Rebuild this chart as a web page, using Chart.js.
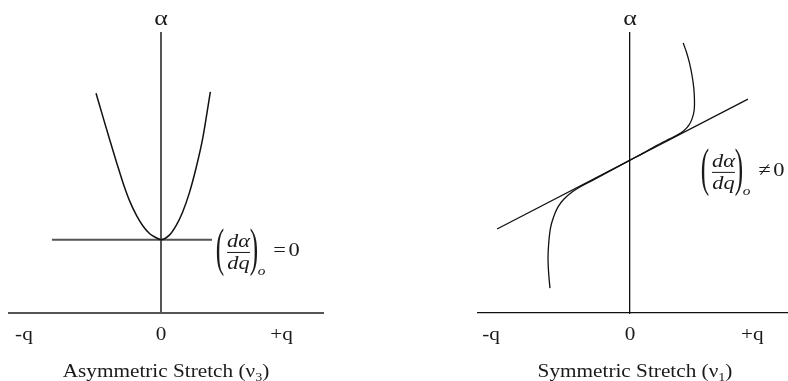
<!DOCTYPE html>
<html>
<head>
<meta charset="utf-8">
<script src="https://cdn.jsdelivr.net/npm/chart.js@4.4.1/dist/chart.umd.min.js"></script>
<style>
    html, body { margin: 0; padding: 0; background: #fff; }
    .row { display: flex; width: 788px; height: 381px; }
</style>
</head>
<body>
<div class="row">
    <canvas id="asymChart" width="394" height="381"></canvas>
    <canvas id="symChart" width="394" height="381"></canvas>
</div>
<script>
// q axis ticks (shared by both panels)
const tickValues = [-1, 0, 0.88];
const tickLabels = ['-q', '0', '+q'];

// asymmetric stretch: polarizability vs. displacement
const asymCurveQ = [-0.474, -0.421, -0.372, -0.323, -0.275, -0.226, -0.177, -0.129, -0.080, -0.031, 0, 0.061, 0.109, 0.158, 0.207, 0.255, 0.304, 0.332, 0.360];
const asymCurveA = [7.85, 6.96, 6.15, 5.36, 4.62, 3.97, 3.47, 3.09, 2.82, 2.68, 2.62, 2.78, 3.11, 3.61, 4.29, 5.16, 6.23, 7.04, 7.90];
const asymTangentQ = [-0.796, 0.372];
const asymTangentA = [2.62, 2.62];

// symmetric stretch
const symCurveQ = [0.383, 0.406, 0.428, 0.446, 0.459, 0.464, 0.462, 0.448, 0.423, 0.387, 0.342, 0.281, 0.187, 0.094, 0, -0.086, -0.180, -0.273, -0.360, -0.417, -0.475, -0.518, -0.550, -0.572, -0.585, -0.590, -0.586, -0.576];
const symCurveA = [9.64, 9.32, 8.93, 8.50, 8.04, 7.61, 7.25, 6.95, 6.70, 6.51, 6.36, 6.21, 5.97, 5.71, 5.46, 5.23, 4.98, 4.73, 4.50, 4.32, 4.07, 3.79, 3.43, 3.04, 2.50, 1.96, 1.46, 0.89];
const symTangentQ = [-0.957, 0.849];
const symTangentA = [3.00, 7.64];

const SERIF = '"Liberation Serif", "Times New Roman", serif';
const SX = 1.18; // the lettering is set a little wide

function toPoints(xs, ys) {
    return xs.map((x, i) => ({ x: x, y: ys[i] }));
}

function putText(ctx, str, x, y, size, opts) {
    opts = opts || {};
    ctx.save();
    ctx.translate(x, y);
    ctx.scale(opts.sx || SX, opts.sy || 1);
    ctx.font = (opts.italic ? 'italic ' : '') + size + 'px ' + SERIF;
    ctx.textAlign = opts.align || 'center';
    ctx.textBaseline = 'alphabetic';
    ctx.fillStyle = '#1a1a1a';
    ctx.fillText(str, 0, 0);
    ctx.restore();
}

// tall thin bracket, centred on cy
function putParen(ctx, ch, cx, cy) {
    const size = 28, sy = 1.85;
    ctx.save();
    ctx.font = size + 'px ' + SERIF;
    const m = ctx.measureText(ch);
    ctx.restore();
    const base = cy + sy * (m.actualBoundingBoxAscent - m.actualBoundingBoxDescent) / 2;
    putText(ctx, ch, cx, base, size, { sx: 0.9, sy: sy });
}

// (dα/dq)o  = 0  /  ≠ 0
function putDerivative(ctx, L, y, op) {
    putParen(ctx, '(', L - 7, y);
    putText(ctx, 'dα', L + 11.5, y - 5, 19, { italic: true });
    ctx.save();
    ctx.strokeStyle = '#1a1a1a';
    ctx.lineWidth = 1;
    ctx.beginPath();
    ctx.moveTo(L, y + 0.5);
    ctx.lineTo(L + 23, y + 0.5);
    ctx.stroke();
    ctx.restore();
    putText(ctx, 'dq', L + 11.5, y + 17, 19, { italic: true });
    putParen(ctx, ')', L + 27, y);
    putText(ctx, 'o', L + 34.5, y + 23, 13, { italic: true });
    putText(ctx, op, L + 52.5, y + 4, 19);
    putText(ctx, '0', L + 67, y + 4, 19);
}

function putTitle(ctx, cx, y, main, sub) {
    const parts = [[main + ' (ν', 18, 0], [sub, 12, 4], [')', 18, 0]];
    ctx.save();
    const widths = parts.map(p => {
        ctx.font = p[1] + 'px ' + SERIF;
        return ctx.measureText(p[0]).width * SX;
    });
    ctx.restore();
    let x = cx - widths.reduce((a, b) => a + b, 0) / 2;
    parts.forEach((p, i) => {
        putText(ctx, p[0], x, y + p[2], p[1], { align: 'left' });
        x += widths[i];
    });
}

const labelPlugin = {
    id: 'panelLabels',
    afterDraw(chart, args, opts) {
        const ctx = chart.ctx;
        const xs = chart.scales.x;
        const ys = chart.scales.y;
        const x0 = xs.getPixelForValue(0);

        putText(ctx, 'α', x0, 25, 22);
        tickValues.forEach((v, i) => {
            putText(ctx, tickLabels[i], xs.getPixelForValue(v), 340, 18);
        });
        putTitle(ctx, x0 + 5, 377, opts.title, opts.sub);
        putDerivative(ctx, xs.getPixelForValue(opts.noteQ), ys.getPixelForValue(opts.noteA), opts.op);
    }
};

function makePanel(id, cfg) {
    const ctx = document.getElementById(id).getContext('2d');
    return new Chart(ctx, {
        type: 'scatter',
        data: {
            datasets: [
                {
                    data: toPoints(cfg.curveQ, cfg.curveA),
                    showLine: true,
                    borderColor: '#111',
                    borderWidth: cfg.curveWidth,
                    cubicInterpolationMode: cfg.monotone ? 'monotone' : 'default',
                    tension: 0.35,
                    pointRadius: 0
                },
                {
                    data: toPoints(cfg.tangentQ, cfg.tangentA),
                    showLine: true,
                    borderColor: cfg.axisColor,
                    borderWidth: cfg.axisWidth,
                    pointRadius: 0
                }
            ]
        },
        options: {
            responsive: false,
            animation: false,
            events: [],
            layout: { padding: cfg.padding },
            scales: {
                x: {
                    type: 'linear',
                    min: cfg.xMin,
                    max: cfg.xMax,
                    grid: { display: false, drawTicks: false },
                    ticks: { display: false },
                    border: { display: true, color: cfg.axisColor, width: cfg.axisWidth }
                },
                y: {
                    type: 'linear',
                    position: { x: 0 },
                    min: 0,
                    max: 10,
                    grid: { display: false, drawTicks: false },
                    ticks: { display: false },
                    border: { display: true, color: cfg.axisColor, width: cfg.axisWidth }
                }
            },
            plugins: {
                legend: { display: false },
                tooltip: { enabled: false },
                panelLabels: {
                    title: cfg.title,
                    sub: cfg.sub,
                    op: cfg.op,
                    noteQ: cfg.noteQ,
                    noteA: cfg.noteA
                }
            }
        },
        plugins: [labelPlugin]
    });
}

makePanel('asymChart', {
    curveQ: asymCurveQ, curveA: asymCurveA,
    tangentQ: asymTangentQ, tangentA: asymTangentA,
    monotone: true,
    xMin: -1.109, xMax: 1.182,
    padding: { left: 9, right: 71, top: 33, bottom: 68 },
    axisColor: '#555', axisWidth: 2, curveWidth: 1.5,
    title: 'Asymmetric Stretch', sub: '3', op: '=',
    noteQ: 0.482, noteA: 2.18
});

makePanel('symChart', {
    curveQ: symCurveQ, curveA: symCurveA,
    tangentQ: symTangentQ, tangentA: symTangentA,
    monotone: false,
    xMin: -1.094, xMax: 1.13,
    padding: { left: 84, right: 1, top: 33, bottom: 68 },
    axisColor: '#111', axisWidth: 1.3, curveWidth: 1.3,
    title: 'Symmetric Stretch', sub: '1', op: '≠',
    noteQ: 0.59, noteA: 5.04
});
</script>
</body>
</html>
